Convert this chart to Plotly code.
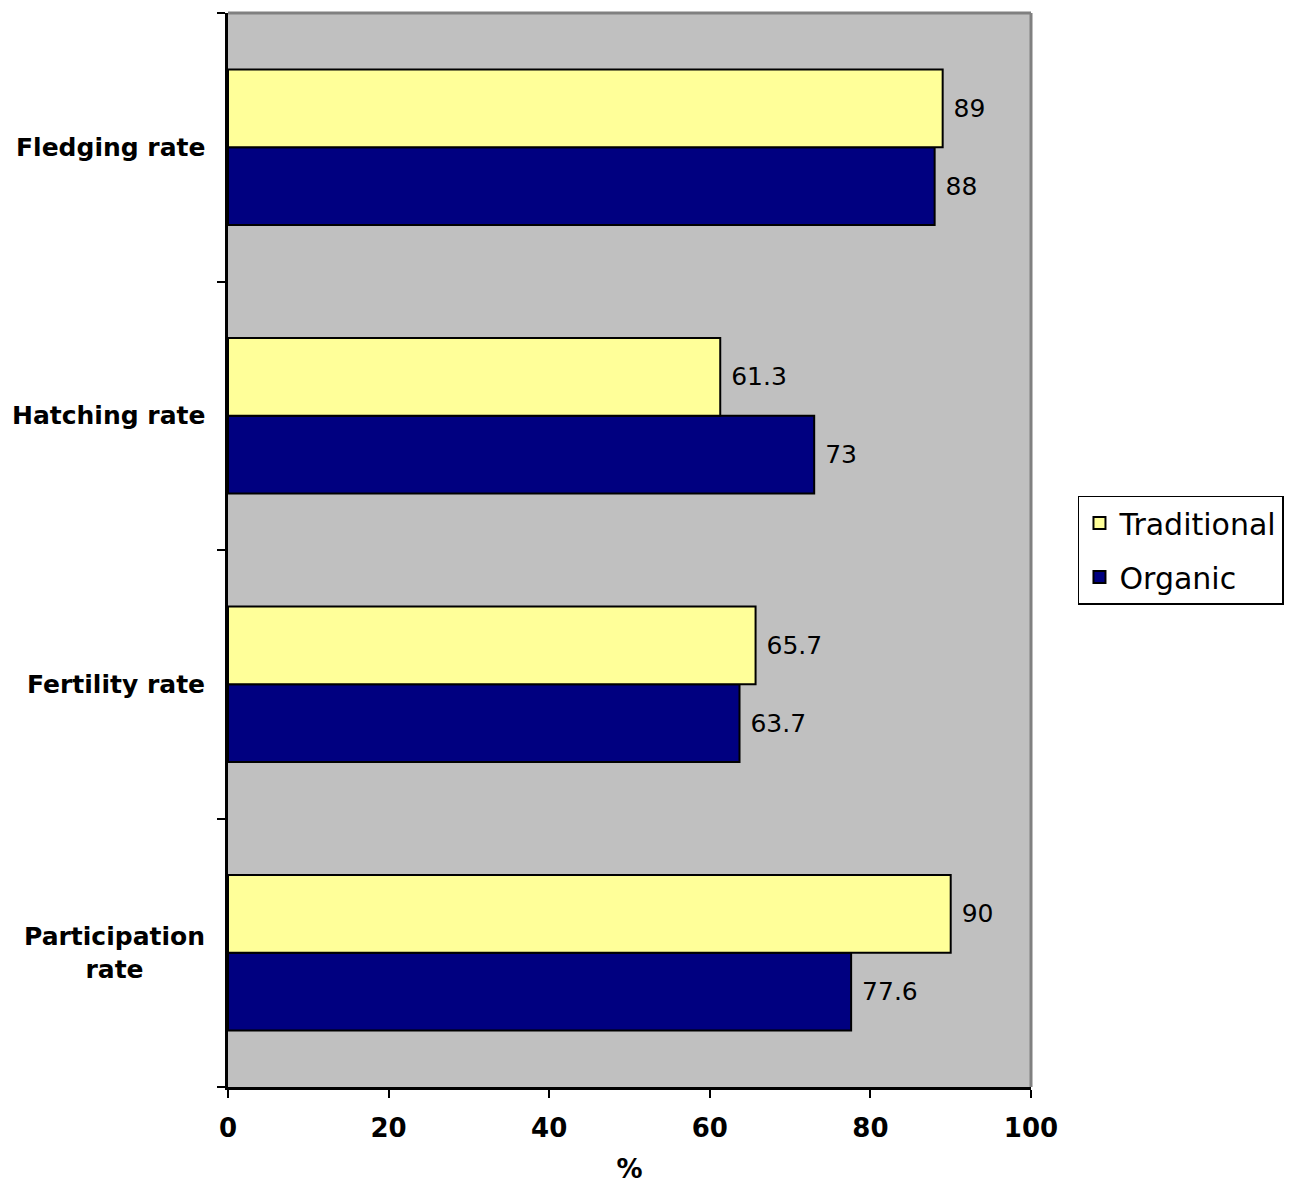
import plotly.graph_objects as go

# Categories listed bottom-to-top as they appear on the axis
categories = ["Participation<br>rate", "Fertility rate", "Hatching rate", "Fledging rate"]
traditional = [90, 65.7, 61.3, 89]
organic = [77.6, 63.7, 73, 88]
x_ticks = [0, 20, 40, 60, 80, 100]

FONT = "Tahoma, Verdana, DejaVu Sans, sans-serif"
NBSP = "\u00a0"

fig = go.Figure()
fig.add_trace(go.Bar(
    name="Organic", y=categories, x=organic, orientation="h",
    legendgroup="org", legendrank=2,
    marker=dict(color="#000080", line=dict(color="black", width=2)),
    text=[f"{NBSP}{v:g}" for v in organic], textposition="outside",
    textfont=dict(size=25, color="black", family=FONT), cliponaxis=False,
))
fig.add_trace(go.Bar(
    name="Traditional", y=categories, x=traditional, orientation="h",
    legendgroup="trad", legendrank=1,
    marker=dict(color="#FFFF99", line=dict(color="black", width=2)),
    text=[f"{NBSP}{v:g}" for v in traditional], textposition="outside",
    textfont=dict(size=25, color="black", family=FONT), cliponaxis=False,
))

# Category labels, centred on multiple lines
for cat in categories:
    fig.add_annotation(
        x=0, xref="paper", xanchor="right", xshift=-21,
        y=cat, yref="y", yanchor="middle",
        text=f"<b>{cat}</b>", align="center", showarrow=False,
        font=dict(size=25, family=FONT, color="black"),
    )

fig.update_layout(
    width=1290, height=1184,
    margin=dict(l=228, r=259, t=13, b=97, autoexpand=False),
    paper_bgcolor="white", plot_bgcolor="#C0C0C0",
    barmode="group", bargap=0.42, bargroupgap=0,
    font=dict(family=FONT, color="black"),
    legend=dict(
        x=1.0585, xanchor="left", y=0.5, yanchor="middle",
        traceorder="grouped", tracegroupgap=12,
        bordercolor="black", borderwidth=1.5,
        font=dict(size=30, family=FONT), bgcolor="white",
        itemwidth=30,
    ),
    xaxis=dict(
        range=[0, 100], tickvals=x_ticks, ticktext=[str(t) for t in x_ticks],
        ticks="outside", ticklen=8, tickwidth=2, tickcolor="black",
        showgrid=False, zeroline=False, automargin=False,
        showline=True, linecolor="black", linewidth=3,
        tickfont=dict(size=26, family=FONT, weight="bold"),
        ticklabelstandoff=8,
        title=dict(text="<b>%</b>", font=dict(size=26, family=FONT), standoff=22),
    ),
    yaxis=dict(
        ticks="outside", ticklen=8, tickwidth=2, tickcolor="black",
        tickson="boundaries", showgrid=False, showticklabels=False, automargin=False,
        showline=True, linecolor="black", linewidth=3,
    ),
    shapes=[dict(type="line", xref="paper", yref="paper", x0=0, x1=1, y0=1, y1=1,
                 line=dict(color="#808080", width=3)),
            dict(type="line", xref="paper", yref="paper", x0=1, x1=1, y0=0, y1=1,
                 line=dict(color="#808080", width=3))],
)

fig.write_html("out.html")
